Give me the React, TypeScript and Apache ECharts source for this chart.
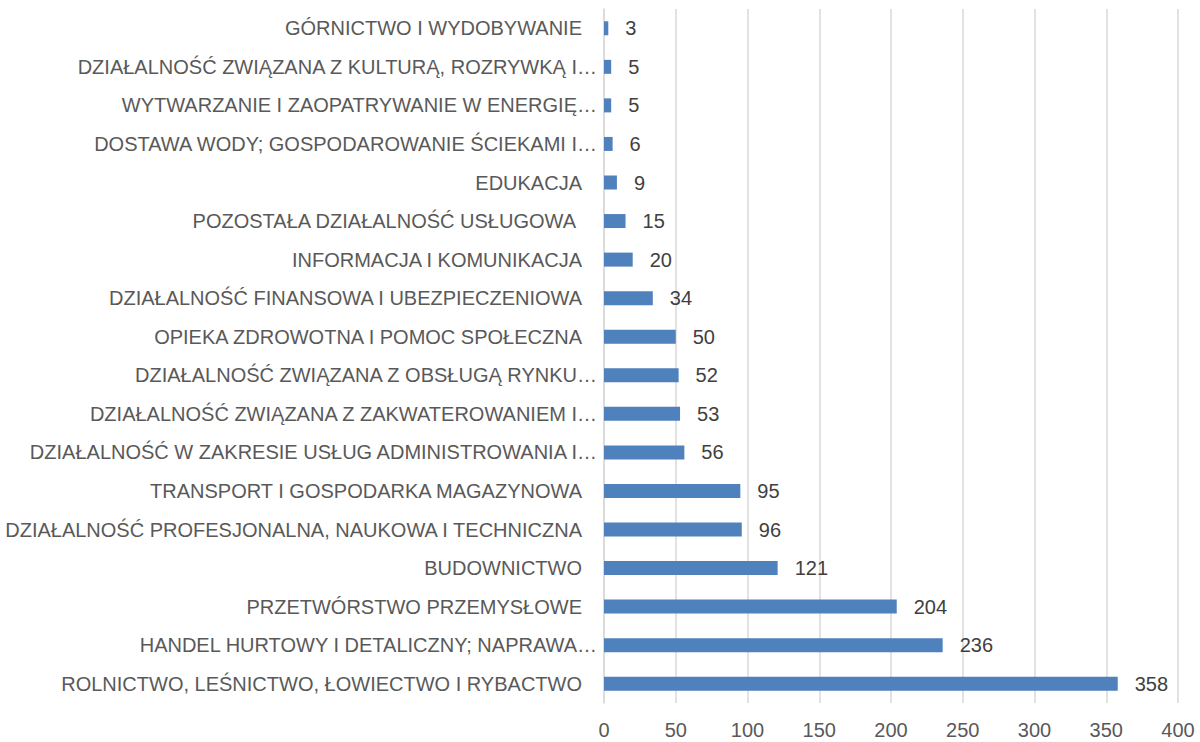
import React, { useEffect, useRef } from "react";
import * as echarts from "echarts";

const categories = [
  "ROLNICTWO, LEŚNICTWO, ŁOWIECTWO I RYBACTWO",
  "HANDEL HURTOWY I DETALICZNY; NAPRAWA…",
  "PRZETWÓRSTWO PRZEMYSŁOWE",
  "BUDOWNICTWO",
  "DZIAŁALNOŚĆ PROFESJONALNA, NAUKOWA I TECHNICZNA",
  "TRANSPORT I GOSPODARKA MAGAZYNOWA",
  "DZIAŁALNOŚĆ W ZAKRESIE USŁUG ADMINISTROWANIA I…",
  "DZIAŁALNOŚĆ ZWIĄZANA Z ZAKWATEROWANIEM I…",
  "DZIAŁALNOŚĆ ZWIĄZANA Z OBSŁUGĄ RYNKU…",
  "OPIEKA ZDROWOTNA I POMOC SPOŁECZNA",
  "DZIAŁALNOŚĆ FINANSOWA I UBEZPIECZENIOWA",
  "INFORMACJA I KOMUNIKACJA",
  "POZOSTAŁA DZIAŁALNOŚĆ USŁUGOWA ",
  "EDUKACJA",
  "DOSTAWA WODY; GOSPODAROWANIE ŚCIEKAMI I…",
  "WYTWARZANIE I ZAOPATRYWANIE W ENERGIĘ…",
  "DZIAŁALNOŚĆ ZWIĄZANA Z KULTURĄ, ROZRYWKĄ I…",
  "GÓRNICTWO I WYDOBYWANIE",
];

const values = [358, 236, 204, 121, 96, 95, 56, 53, 52, 50, 34, 20, 15, 9, 6, 5, 5, 3];

const xTicks = { min: 0, max: 400, interval: 50 };

const FONT = "'Liberation Sans Narrow', 'Liberation Sans', sans-serif";

export default function App() {
  const ref = useRef<HTMLDivElement>(null);
  useEffect(() => {
    if (!ref.current) return;
    const chart = echarts.init(ref.current, undefined, { renderer: "svg" });
    chart.setOption({
      animation: false,
      backgroundColor: "#ffffff",
      grid: { left: 604, right: 22, top: 9, bottom: 39, containLabel: false },
      xAxis: {
        type: "value",
        min: xTicks.min,
        max: xTicks.max,
        interval: xTicks.interval,
        axisLine: { show: false },
        axisTick: { show: false },
        splitLine: { show: true, lineStyle: { color: "#d9d9d9", width: 1.5 } },
        axisLabel: {
          color: "#595959",
          fontSize: 20,
          fontFamily: FONT,
          margin: 17,
        },
      },
      yAxis: {
        type: "category",
        data: categories,
        axisLine: { show: true, lineStyle: { color: "#d9d9d9", width: 1.5 } },
        axisTick: { show: false },
        axisLabel: {
          margin: 7,
          formatter: (v: string) => {
            if (v.endsWith("…")) return "{b|" + v + "}";
            if (v.endsWith(" ")) return "{c|" + v.trim() + "}";
            return "{a|" + v + "}";
          },
          rich: {
            a: { color: "#595959", fontSize: 20, fontFamily: FONT, padding: [0, 15, 0, 0] },
            b: { color: "#595959", fontSize: 20, fontFamily: FONT, padding: [0, 0, 0, 0] },
            c: { color: "#595959", fontSize: 20, fontFamily: FONT, padding: [0, 21, 0, 0] },
          },
        },
      },
      series: [
        {
          type: "bar",
          data: values,
          barWidth: 14,
          itemStyle: { color: "#4F81BD" },
          label: {
            show: true,
            position: "right",
            distance: 17,
            color: "#404040",
            fontSize: 20,
            fontFamily: FONT,
          },
        },
      ],
    });
    return () => chart.dispose();
  }, []);
  return <div ref={ref} style={{ width: 1200, height: 742, position: "absolute", left: 0, top: 0 }} />;
}
